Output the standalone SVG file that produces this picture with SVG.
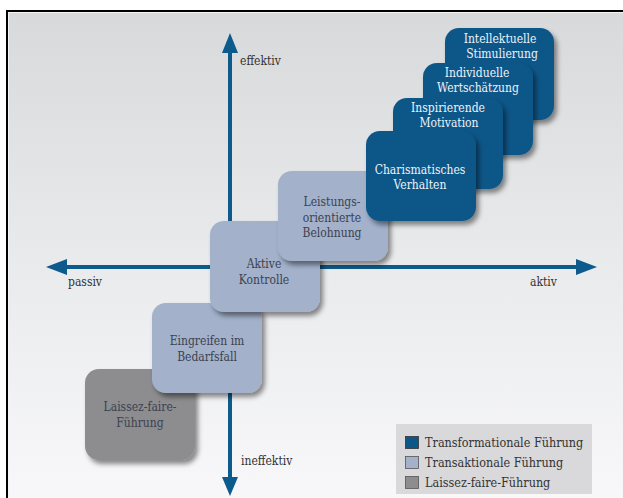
<svg xmlns="http://www.w3.org/2000/svg" width="623" height="498" viewBox="0 0 623 498">
<defs>
<linearGradient id="bg" x1="0" y1="0" x2="0" y2="1">
<stop offset="0" stop-color="#d8d9db"/>
<stop offset="0.5" stop-color="#e9eaec"/>
<stop offset="1" stop-color="#f8f8fa"/>
</linearGradient>
<filter id="sh" x="-20%" y="-20%" width="150%" height="150%">
<feDropShadow dx="3" dy="4" stdDeviation="2.5" flood-color="#000" flood-opacity="0.45"/>
</filter>
</defs>
<style>
.t{font-family:"DejaVu Serif Condensed","DejaVu Serif",serif;font-stretch:condensed;font-size:12px;text-anchor:middle}
.dk{fill:#0c5688}
.lt{fill:#a3b1cb}
.gr{fill:#8d8d8f}
.tw{fill:#eef3f8}
.tg{fill:#3c4250}
.ax{font-family:"DejaVu Serif Condensed","DejaVu Serif",serif;font-stretch:condensed;font-size:12px;fill:#333}
.lg{font-family:"DejaVu Serif Condensed","DejaVu Serif",serif;font-stretch:condensed;font-size:12.5px;fill:#333}
.axis{fill:#0d5a8c}
</style>
<rect x="0" y="0" width="623" height="498" fill="#fff"/>
<rect x="7" y="11" width="620" height="492" fill="url(#bg)" stroke="#000" stroke-width="2"/>
<rect x="8.5" y="12.5" width="620" height="492" fill="none" stroke="#f4f4f4" stroke-width="1"/>
<g id="connectors">
<rect class="axis" x="228" y="50" width="4" height="430"/>
<polygon class="axis" points="230,33 222,53 238,53"/>
<polygon class="axis" points="230,496 222,477 238,477"/>
<rect class="axis" x="64" y="265" width="514" height="4"/>
<polygon class="axis" points="46,267 67,259 67,275"/>
<polygon class="axis" points="597,267 576,259 576,275"/>
</g>
<text class="ax" x="240" y="65">effektiv</text>
<text class="ax" x="241" y="465">ineffektiv</text>
<text class="ax" x="68" y="286">passiv</text>
<text class="ax" x="530" y="286">aktiv</text>
<g id="laissez">
<rect class="gr" x="85" y="369" width="110" height="91" rx="14" filter="url(#sh)"/>
<text class="t tg" x="140" y="411">Laissez-faire-</text>
<text class="t tg" x="140" y="427">Führung</text>
</g>
<g id="eingreifen">
<rect class="lt" x="152" y="303" width="110" height="90" rx="14" filter="url(#sh)"/>
<text class="t tg" x="207" y="345">Eingreifen im</text>
<text class="t tg" x="207" y="361">Bedarfsfall</text>
</g>
<g id="aktive">
<rect class="lt" x="210" y="221" width="110" height="91" rx="14" filter="url(#sh)"/>
<text class="t tg" x="264" y="268">Aktive</text>
<text class="t tg" x="264" y="284">Kontrolle</text>
</g>
<g id="leistung">
<rect class="lt" x="278" y="171" width="110" height="90" rx="14" filter="url(#sh)"/>
<text class="t tg" x="332" y="206">Leistungs-</text>
<text class="t tg" x="332" y="221.5">orientierte</text>
<text class="t tg" x="332" y="237">Belohnung</text>
</g>
<g id="intellektuelle">
<rect class="dk" x="445" y="28" width="109" height="92" rx="14" filter="url(#sh)"/>
<text class="t tw" x="500" y="43">Intellektuelle</text>
<text class="t tw" x="502" y="58">Stimulierung</text>
</g>
<g id="individuelle">
<rect class="dk" x="423" y="63" width="110" height="92" rx="14" filter="url(#sh)"/>
<text class="t tw" x="477" y="77">Individuelle</text>
<text class="t tw" x="478" y="92">Wertschätzung</text>
</g>
<g id="inspirierende">
<rect class="dk" x="393" y="98" width="110" height="91" rx="14" filter="url(#sh)"/>
<text class="t tw" x="448" y="112">Inspirierende</text>
<text class="t tw" x="449" y="127">Motivation</text>
</g>
<g id="charismatisches">
<rect class="dk" x="366" y="131" width="110" height="90" rx="14" filter="url(#sh)"/>
<text class="t tw" x="420" y="174">Charismatisches</text>
<text class="t tw" x="420" y="189">Verhalten</text>
</g>
<g id="legend">
<rect x="396" y="424" width="196" height="70" fill="#d9d9db"/>
<rect x="405.5" y="436.5" width="13" height="12" fill="#0c5688" stroke="#333" stroke-width="0.8"/>
<rect x="405.5" y="456.5" width="13" height="12" fill="#a3b1cb" stroke="#555" stroke-width="0.8"/>
<rect x="405.5" y="476.5" width="13" height="12" fill="#8d8d8f" stroke="#555" stroke-width="0.8"/>
<text class="lg" x="425" y="447">Transformationale Führung</text>
<text class="lg" x="425" y="467">Transaktionale Führung</text>
<text class="lg" x="425" y="487">Laissez-faire-Führung</text>
</g>
</svg>
